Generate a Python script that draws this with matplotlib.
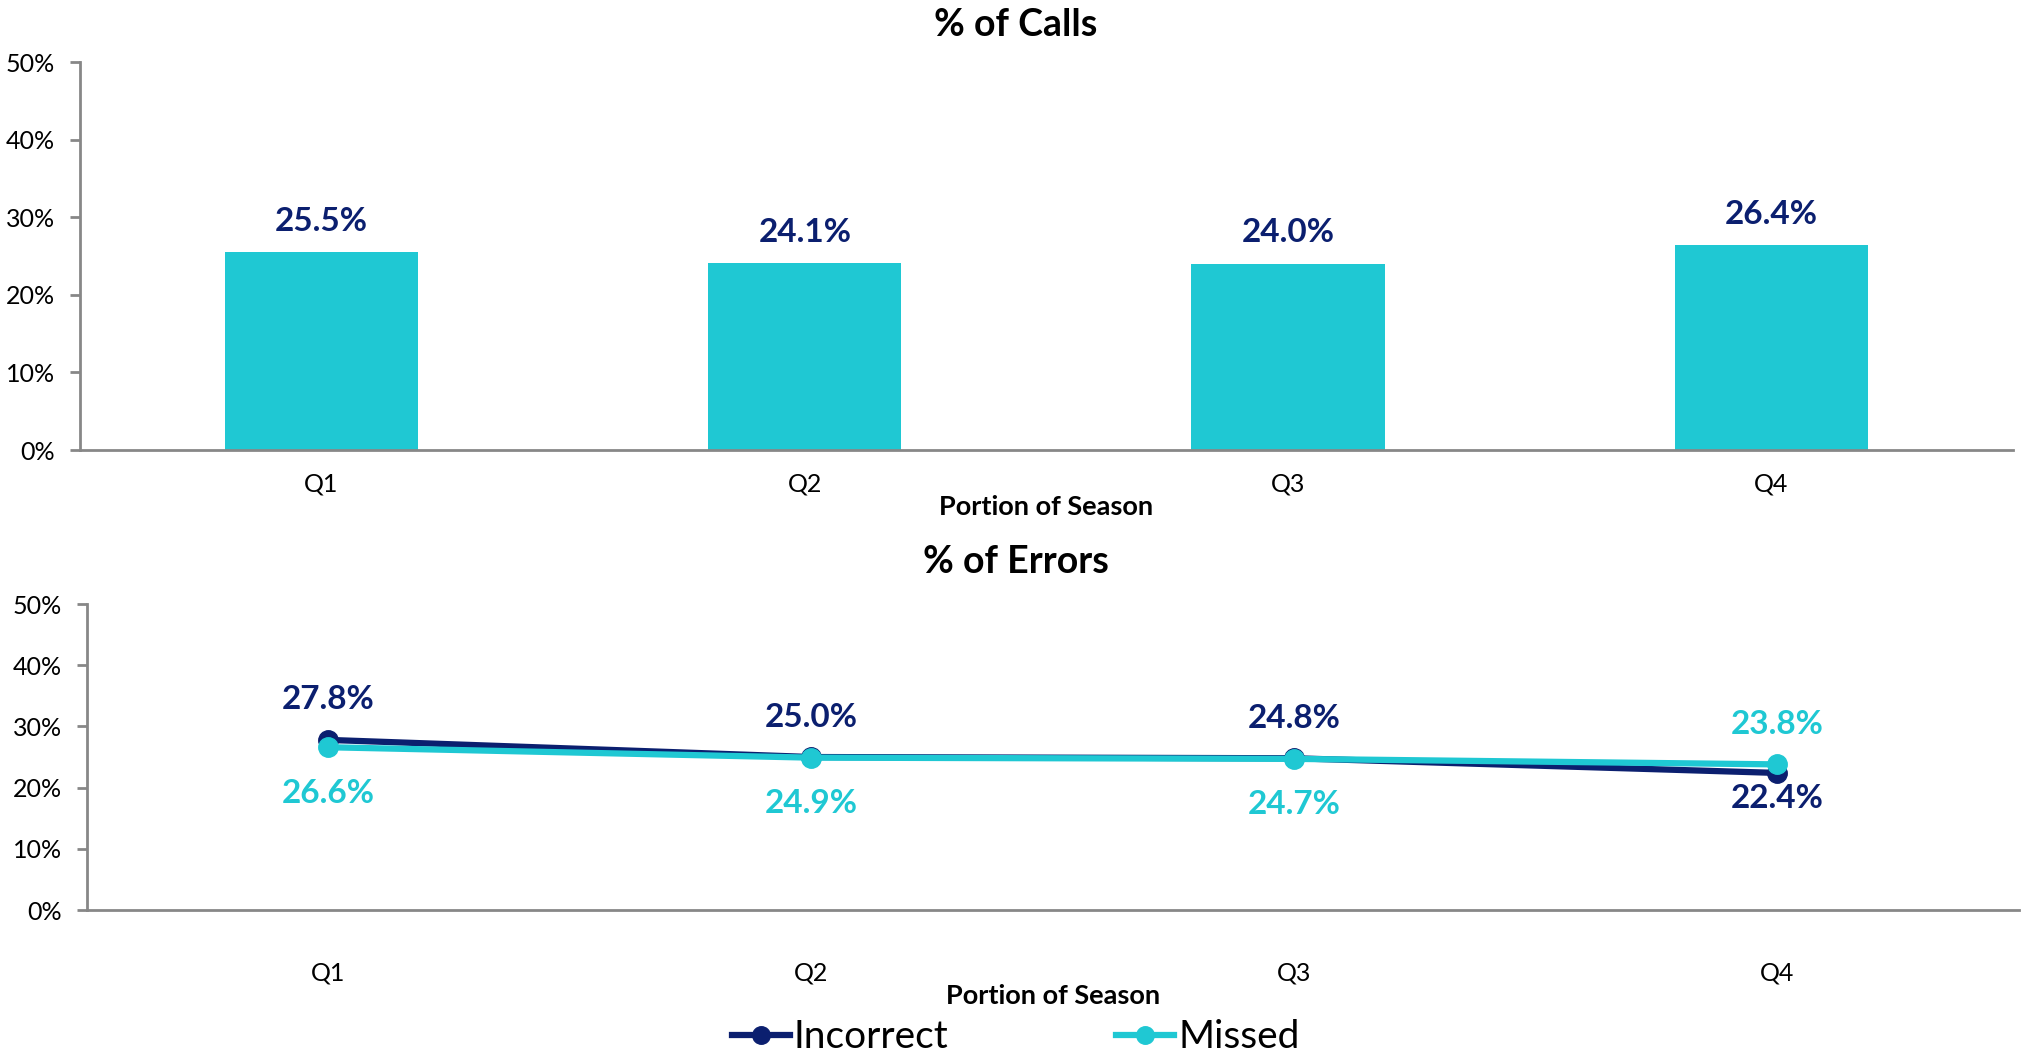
import matplotlib
matplotlib.use("Agg")
import matplotlib.pyplot as plt
from matplotlib.ticker import PercentFormatter

plt.rcParams['font.family'] = ['Lato', 'DejaVu Sans']

quarters = ["Q1", "Q2", "Q3", "Q4"]
calls_pct = [25.5, 24.1, 24.0, 26.4]
incorrect_pct = [27.8, 25.0, 24.8, 22.4]
missed_pct = [26.6, 24.9, 24.7, 23.8]
yticks = [0, 10, 20, 30, 40, 50]

NAVY = "#0B1F6F"
TEAL = "#1FC8D3"
GRAY = "#878787"

fig = plt.figure(figsize=(20.23, 10.54), dpi=100)

# ---------- top: % of Calls ----------
ax1 = fig.add_axes([0.0395, 0.573, 0.9555, 0.3681])
x = range(len(quarters))
ax1.bar(x, calls_pct, width=0.4, color=TEAL)
ax1.set_xlim(-0.5, 3.5)
ax1.set_ylim(0, 50)
ax1.set_yticks(yticks)
ax1.yaxis.set_major_formatter(PercentFormatter(decimals=0))
ax1.set_xticks(list(x))
ax1.set_xticklabels(quarters)
for i, v in enumerate(calls_pct):
    ax1.annotate(f"{v:.1f}%", (i, v), xytext=(0, 31), textcoords="offset pixels",
                 ha="center", va="center", fontsize=24, fontweight="bold", color=NAVY)
ax1.set_xlabel("Portion of Season", fontsize=19.5, fontweight="bold", labelpad=0)
fig.text(0.502, 1 - 25 / 1054, "% of Calls", ha="center", va="center",
         fontsize=27, fontweight="bold")

# ---------- bottom: % of Errors ----------
ax2 = fig.add_axes([0.043, 0.1366, 0.955, 0.2903])
ax2.plot(x, incorrect_pct, color=NAVY, lw=4.5, marker="o", ms=14, label="Incorrect", zorder=3)
ax2.plot(x, missed_pct, color=TEAL, lw=4.5, marker="o", ms=14, label="Missed", zorder=4)
ax2.set_xlim(-0.5, 3.5)
ax2.set_ylim(0, 50)
ax2.set_yticks(yticks)
ax2.yaxis.set_major_formatter(PercentFormatter(decimals=0))
ax2.set_xticks(list(x))
ax2.set_xticklabels(quarters)
for i, (a, b) in enumerate(zip(incorrect_pct, missed_pct)):
    if a >= b:
        oa, ob = 40, -46
    else:
        oa, ob = -26, 40
    ax2.annotate(f"{a:.1f}%", (i, a), xytext=(0, oa), textcoords="offset pixels",
                 ha="center", va="center", fontsize=24, fontweight="bold", color=NAVY)
    ax2.annotate(f"{b:.1f}%", (i, b), xytext=(0, ob), textcoords="offset pixels",
                 ha="center", va="center", fontsize=24, fontweight="bold", color=TEAL)
ax2.set_xlabel("Portion of Season", fontsize=19.5, fontweight="bold", labelpad=0)
fig.text(0.502, 1 - 562 / 1054, "% of Errors", ha="center", va="center",
         fontsize=27, fontweight="bold")

for ax, pad in ((ax1, 16), (ax2, 37)):
    for s in ("top", "right"):
        ax.spines[s].set_visible(False)
    for s in ("left", "bottom"):
        ax.spines[s].set_color(GRAY)
        ax.spines[s].set_linewidth(2)
    ax.tick_params(axis="y", direction="out", length=7, width=2, color=GRAY,
                   labelsize=18, pad=11)
    ax.tick_params(axis="x", length=0, labelsize=18, pad=pad)

leg = fig.legend(loc="center", bbox_to_anchor=(0.502, 0.016), ncol=2, frameon=False,
                 fontsize=28, handlelength=1.5, handletextpad=0.1, columnspacing=4.3,
                 markerscale=0.9)

fig.savefig("out.png", dpi=100)
